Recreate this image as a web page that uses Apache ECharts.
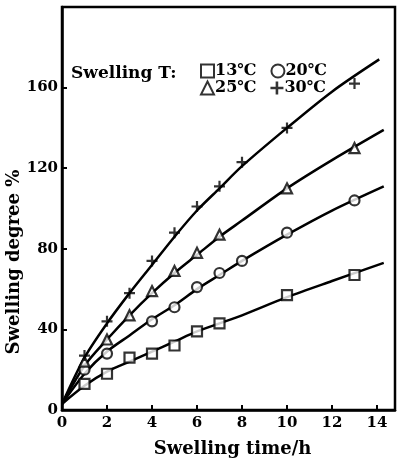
<!DOCTYPE html>
<html>
<head>
<meta charset="utf-8">
<script src="https://cdn.jsdelivr.net/npm/echarts@6/dist/echarts.min.js"></script>
<style>
html,body{margin:0;padding:0;background:#fff;}
#main{width:401px;height:464px;}
</style>
</head>
<body>
<div id="main"></div>
<script>
// swelling temperatures (legend names)
var names = ['13\u2103', '20\u2103', '25\u2103', '30\u2103'];

// measured points [time h, degree %]
var pts13 = [[1,13],[2,18],[3,26],[4,28],[5,32],[6,39],[7,43],[10,57],[13,67]];
var pts20 = [[1,20],[2,28],[4,44],[5,51],[6,61],[7,68],[8,74],[10,88],[13,104]];
var pts25 = [[1,24],[2,35],[3,47],[4,59],[5,69],[6,78],[7,87],[10,110],[13,130]];
var pts30 = [[1,27],[2,44],[3,58],[4,74],[5,88],[6,101],[7,111],[8,123],[10,140],[13,162]];

// fitted curves
var fit13 = [[0,3],[1,12],[2,19],[3,24],[4,29],[5,34],[6,39],[7,43],[8,47],[10,56],[12,64],[14.3,73]];
var fit20 = [[0,3],[1,18],[2,29],[3,37],[4,45],[5,52],[6,60],[7,67],[8,74],[10,87],[12,99],[14.3,111]];
var fit25 = [[0,3],[1,22],[2,35],[3,47],[4,58],[5,68],[6,77],[7,86],[8,94],[10,110],[12,124],[14.3,139]];
var fit30 = [[0,3],[1,26],[2,43],[3,58],[4,72],[5,86],[6,99],[7,110],[8,121],[10,140],[12,158],[14.1,174]];

var plusPath = 'path://M4,0H6V4H10V6H6V10H4V6H0V4H4Z';
var symbols = ['rect', 'circle', 'triangle', plusPath];
var pts = [pts13, pts20, pts25, pts30];
var fits = [fit13, fit20, fit25, fit30];

var font = '"DejaVu Serif", "Liberation Serif", serif';

var series = [];
for (var i = 0; i < 4; i++) {
	series.push({
		type: 'line',
		data: fits[i],
		smooth: 0.3,
		showSymbol: false,
		silent: true,
		lineStyle: {color: '#000', width: 2.5},
		z: 2
	});
	series.push({
		type: 'scatter',
		name: names[i],
		data: pts[i],
		symbol: symbols[i],
		symbolSize: i == 3 ? 11 : 10,
		itemStyle: {
			color: i == 3 ? '#000' : '#fff',
			borderColor: '#000',
			borderWidth: i == 3 ? 0 : 2.2
		},
		z: 3
	});
}

var legendText = {fontFamily: font, fontWeight: 'bold', fontSize: 16, color: '#000', padding: [0, 0, 0, -4]};

var chart = echarts.init(document.getElementById('main'));
chart.setOption({
	animation: false,
	backgroundColor: '#fff',
	grid: {
		left: 62, top: 7, right: 6, bottom: 54,
		show: true, borderColor: '#000', borderWidth: 2.5
	},
	legend: [{
		left: 195, top: 58,
		itemWidth: 13, itemHeight: 13, itemGap: 14,
		textStyle: legendText,
		data: [names[0], names[1]]
	}, {
		left: 195, top: 75,
		itemWidth: 13, itemHeight: 13, itemGap: 14,
		textStyle: legendText,
		data: [names[2], names[3]]
	}],
	graphic: [{
		type: 'text', left: 71, top: 65,
		style: {text: 'Swelling T:', font: 'bold 17px ' + font, fill: '#000'}
	}, {
		type: 'text', x: 14, y: 262, rotation: Math.PI / 2,
		style: {text: 'Swelling degree %', font: 'bold 18px ' + font, fill: '#000', align: 'center', verticalAlign: 'middle'}
	}],
	xAxis: {
		type: 'value', min: 0, max: 14.8, interval: 2,
		name: 'Swelling time/h', nameLocation: 'middle', nameGap: 30,
		nameTextStyle: {fontFamily: font, fontWeight: 'bold', fontSize: 18, color: '#000', padding: [0, 0, 0, 8]},
		axisLine: {lineStyle: {color: '#000', width: 2.5}},
		axisTick: {inside: true, length: 5, lineStyle: {color: '#000', width: 2}},
		axisLabel: {
			fontFamily: font, fontWeight: 'bold', fontSize: 15, color: '#000', margin: 6,
			formatter: function (v) { return v % 2 == 0 ? v : ''; }
		},
		splitLine: {show: false}
	},
	yAxis: {
		type: 'value', min: 0, max: 200, interval: 40,
		axisLine: {lineStyle: {color: '#000', width: 2.5}},
		axisTick: {inside: true, length: 5, lineStyle: {color: '#000', width: 2}},
		axisLabel: {
			fontFamily: font, fontWeight: 'bold', fontSize: 15, color: '#000', margin: 4,
			formatter: function (v) { return v == 200 ? '' : v; }
		},
		splitLine: {show: false}
	},
	series: series
});
</script>
</body>
</html>
